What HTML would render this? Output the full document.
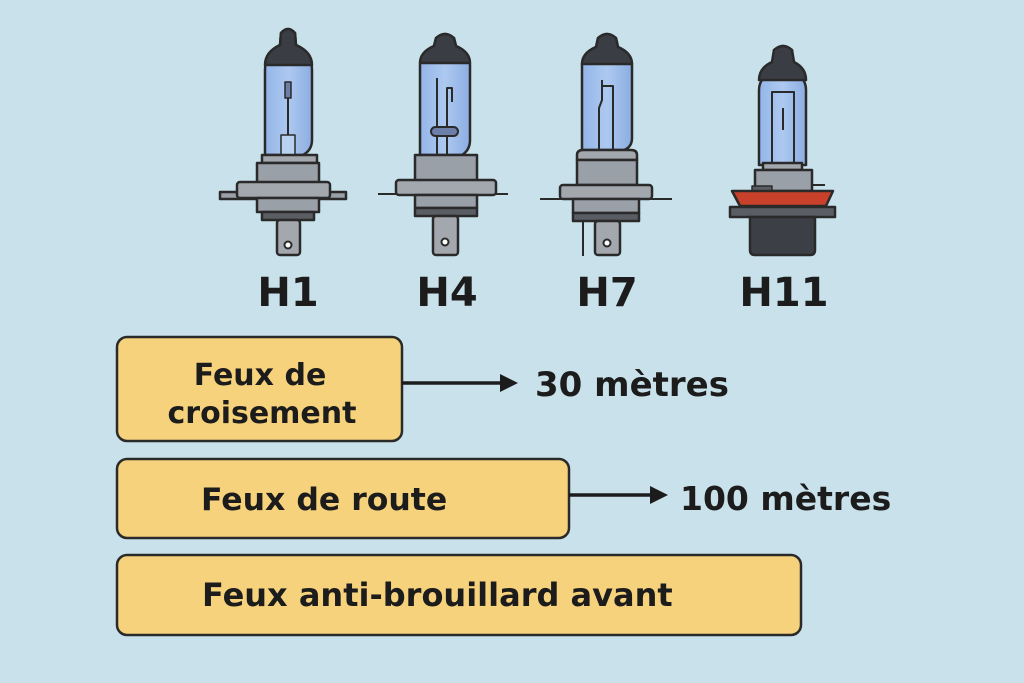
<!DOCTYPE html>
<html><head><meta charset="utf-8"><style>
html,body{margin:0;padding:0;background:#c8e1ea;}
svg{display:block}
text{font-family:"DejaVu Sans","Liberation Sans",sans-serif;font-weight:bold;fill:#1c1c1c}
</style></head><body>
<svg width="1024" height="683" viewBox="0 0 1024 683" xmlns="http://www.w3.org/2000/svg">
<rect width="1024" height="683" fill="#c8e1ea"/>
<defs>
<linearGradient id="gl" x1="0" x2="1"><stop offset="0" stop-color="#93b5e8"/><stop offset="0.5" stop-color="#adc9f0"/><stop offset="1" stop-color="#8cade2"/></linearGradient>
</defs>
<g stroke="#2a2a2a" stroke-width="2.5" stroke-linejoin="round">
<!-- H1 -->
<path d="M265,155 L265,70 Q265,52 280,45 L281,33 Q288,25 295,33 L296,45 Q312,52 312,70 L312,140 Q312,150 303,155 Z" fill="url(#gl)"/>
<path d="M265,65 Q265,52 280,45 L281,33 Q288,25 295,33 L296,45 Q312,52 312,65 Z" fill="#3a3d44"/>
<rect x="285" y="82" width="6" height="16" fill="#6b7fa8" stroke-width="1.5"/>
<line x1="288" y1="98" x2="288" y2="135" stroke-width="2"/>
<rect x="281" y="135" width="14" height="20" fill="#b9d2f2" stroke-width="1.5"/>
<rect x="220" y="192" width="126" height="7" fill="#9aa0a7"/>
<rect x="262" y="155" width="55" height="8" fill="#a3a8ae"/>
<rect x="257" y="163" width="62" height="20" fill="#9aa0a7"/>
<rect x="237" y="182" width="93" height="16" rx="3" fill="#a3a8ae"/>
<rect x="257" y="198" width="62" height="14" fill="#9aa0a7"/>
<rect x="262" y="212" width="52" height="8" fill="#5a5e64"/>
<rect x="277" y="220" width="23" height="35" rx="3" fill="#a3a8ae"/>
<circle cx="288" cy="245" r="3.5" fill="#fff" stroke-width="2"/>
<!-- H4 -->
<path d="M420,155 L420,65 Q420,52 434,46 L436,38 Q445,30 454,38 L456,46 Q470,52 470,65 L470,140 Q470,150 462,155 Z" fill="url(#gl)"/>
<path d="M420,63 Q420,52 434,46 L436,38 Q445,30 454,38 L456,46 Q470,52 470,63 Z" fill="#3a3d44"/>
<path d="M437,78 L437,155 M447,155 L447,88 L452,88 L452,102" fill="none" stroke-width="2"/>
<rect x="431" y="127" width="27" height="9" rx="4.5" fill="#6b7fa8" stroke-width="2"/>
<line x1="378" y1="194" x2="508" y2="194" stroke-width="2"/>
<rect x="415" y="155" width="62" height="26" fill="#9aa0a7"/>
<rect x="396" y="180" width="100" height="15" rx="3" fill="#a3a8ae"/>
<rect x="415" y="195" width="62" height="13" fill="#9aa0a7"/>
<rect x="415" y="208" width="62" height="8" fill="#5a5e64"/>
<rect x="433" y="216" width="25" height="39" rx="3" fill="#a3a8ae"/>
<circle cx="445" cy="242" r="3.5" fill="#fff" stroke-width="2"/>
<!-- H7 -->
<path d="M582,150 L582,65 Q582,53 596,47 L598,38 Q607,30 616,38 L618,47 Q632,53 632,65 L632,138 Q632,147 624,150 Z" fill="url(#gl)"/>
<path d="M582,64 Q582,53 596,47 L598,38 Q607,30 616,38 L618,47 Q632,53 632,64 Z" fill="#3a3d44"/>
<path d="M599,150 L599,108 L602,100 L602,80 M613,150 L613,86 L601,86" fill="none" stroke-width="2"/>
<line x1="583" y1="210" x2="583" y2="256" stroke-width="2"/>
<line x1="540" y1="199" x2="672" y2="199" stroke-width="2"/>
<path d="M577,160 L577,155 Q577,150 583,150 L631,150 Q637,150 637,155 L637,160 Z" fill="#a3a8ae"/>
<rect x="577" y="160" width="60" height="25" fill="#9aa0a7"/>
<rect x="560" y="185" width="92" height="14" rx="3" fill="#a3a8ae"/>
<rect x="573" y="199" width="66" height="14" fill="#9aa0a7"/>
<rect x="573" y="213" width="66" height="8" fill="#5a5e64"/>
<rect x="595" y="221" width="25" height="34" rx="3" fill="#a3a8ae"/>
<circle cx="607" cy="243" r="3.5" fill="#fff" stroke-width="2"/>
<!-- H11 -->
<path d="M759,165 L759,90 Q759,78 772,72 L774,50 Q783,42 792,50 L794,72 Q806,78 806,90 L806,165 Z" fill="url(#gl)"/>
<path d="M759,80 Q759,68 772,62 L774,50 Q783,42 792,50 L794,62 Q806,68 806,80 Z" fill="#3a3d44"/>
<rect x="772" y="92" width="22" height="72" fill="none" stroke-width="2"/>
<line x1="783" y1="108" x2="783" y2="130" stroke-width="2"/>
<line x1="812" y1="185" x2="825" y2="185" stroke-width="2"/>
<rect x="763" y="163" width="39" height="7" fill="#a3a8ae"/>
<rect x="755" y="170" width="57" height="21" fill="#9aa0a7"/>
<rect x="752" y="186" width="20" height="6" fill="#5a5e64" stroke-width="1.5"/>
<path d="M732,191 L833,191 L826,206 L740,206 Z" fill="#c9412a"/>
<rect x="730" y="207" width="105" height="10" fill="#5a5e64"/>
<path d="M750,217 L815,217 L815,250 Q815,255 810,255 L755,255 Q750,255 750,250 Z" fill="#3c3f45"/>
</g>
<text x="288" y="306" font-size="40" text-anchor="middle">H1</text>
<text x="447" y="306" font-size="40" text-anchor="middle">H4</text>
<text x="607" y="306" font-size="40" text-anchor="middle">H7</text>
<text x="784" y="306" font-size="40" text-anchor="middle">H11</text>
<g stroke="#2a2a2a" stroke-width="2.5" fill="#f5d27b">
<rect x="117" y="337" width="285" height="104" rx="10"/>
<rect x="117" y="459" width="452" height="79" rx="10"/>
<rect x="117" y="555" width="684" height="80" rx="10"/>
</g>
<g stroke="#1c1c1c" stroke-width="3.5">
<line x1="402" y1="383" x2="502" y2="383"/>
<line x1="569" y1="495" x2="652" y2="495"/>
</g>
<path d="M500,374 L518,383 L500,392 Z" fill="#1c1c1c"/>
<path d="M650,486 L668,495 L650,504 Z" fill="#1c1c1c"/>
<text x="260" y="385" font-size="30" text-anchor="middle">Feux de</text>
<text x="262" y="423" font-size="30" text-anchor="middle">croisement</text>
<text x="201" y="510" font-size="31.5">Feux de route</text>
<text x="202" y="606" font-size="32">Feux anti-brouillard avant</text>
<text x="535" y="396" font-size="34">30 mètres</text>
<text x="680" y="510" font-size="33">100 mètres</text>
</svg>
</body></html>
